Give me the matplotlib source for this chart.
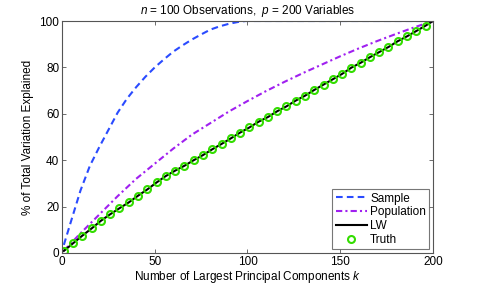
import matplotlib
matplotlib.use("Agg")
import matplotlib.pyplot as plt

plt.rcParams['font.family'] = ['Liberation Sans', 'DejaVu Sans']
plt.rcParams['mathtext.fontset'] = 'custom'
plt.rcParams['mathtext.rm'] = 'Liberation Sans'
plt.rcParams['mathtext.it'] = 'Liberation Sans:italic'
plt.rcParams['font.size'] = 8.5

# ---- data ----
sample_k = [1, 5, 10, 15, 20, 25, 30, 35, 40, 45, 50, 55, 60, 65, 70, 75, 80, 85, 90, 95, 99, 200]
sample_pct = [3.5, 14, 27, 37.5, 45.5, 53, 60.5, 66.5, 71.5, 76, 80, 83.5, 86.8, 89.5, 92, 94.2, 96.3,
              97.7, 98.8, 99.6, 100, 100]

population_k = [1, 10, 20, 30, 40, 50, 60, 70, 80, 90, 100, 110, 120, 130, 140, 150, 160, 170, 180, 190, 200]
population_pct = [1, 8.5, 16.5, 24.5, 32, 38.5, 45, 51, 56, 61, 65.5, 69.8, 73.8, 77.6, 81.2, 84.8,
                  88.2, 91.4, 94.4, 97.3, 100]

truth_k = list(range(1, 200, 5))
truth_pct = [0.9, 4.2, 7.5, 10.6, 13.9, 16.7, 19.3, 21.8, 24.7, 27.4,
             30.4, 33.2, 35.5, 37.6, 40.0, 42.2, 44.7, 47.0, 49.4, 51.9,
             54.1, 56.6, 58.6, 61.1, 63.2, 65.7, 67.8, 70.3, 72.6, 74.9,
             77.2, 79.9, 82.0, 84.4, 86.6, 88.8, 91.3, 93.4, 95.7, 98.0]

lw_k = truth_k + [200]
lw_pct = truth_pct + [100.0]

xticks = [0, 50, 100, 150, 200]
yticks = [0, 20, 40, 60, 80, 100]

# ---- figure ----
fig = plt.figure(figsize=(4.79, 2.85), dpi=100)
ax = fig.add_axes([0.1294, 0.1123, 0.7746, 0.8140])

ax.plot(sample_k, sample_pct, color='#2a4bff', lw=1.5, linestyle=(0, (3.2, 2.0)), label='Sample')
ax.plot(population_k, population_pct, color='#a020f0', lw=1.5, linestyle=(0, (3, 1.5, 1, 1.5)),
        label='Population')
ax.plot(lw_k, lw_pct, color='black', lw=1.5, label='LW')
ax.plot(truth_k, truth_pct, linestyle='none', marker='o', ms=5, mew=1.5, mfc='none',
        mec='#33dd00', label='Truth')

ax.set_xlim(0, 200)
ax.set_ylim(0, 100)
ax.set_xticks(xticks)
ax.set_yticks(yticks)
ax.tick_params(direction='in', length=3, width=0.6, top=True, right=True, color='#555555', pad=2)
for s in ax.spines.values():
    s.set_color('#555555')
    s.set_linewidth(0.8)

ax.set_title('$n$ = 100 Observations,  $p$ = 200 Variables', fontsize=8.5, pad=5)
ax.set_xlabel('Number of Largest Principal Components $k$', labelpad=1)
ax.set_ylabel('% of Total Variation Explained', labelpad=4)

leg = ax.legend(loc='lower right', fontsize=8.5, frameon=True, fancybox=False, handlelength=2.6,
                handletextpad=0.3, labelspacing=0.15, borderpad=0.3, borderaxespad=0.3)
leg.get_frame().set_edgecolor('#555555')
leg.get_frame().set_linewidth(0.8)

fig.savefig('out.png', dpi=100)
